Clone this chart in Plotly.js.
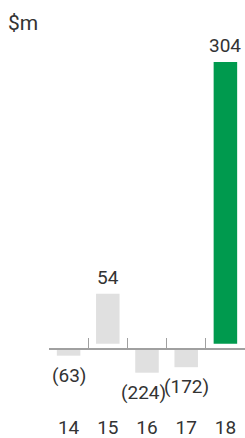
<!DOCTYPE html>
<html>
<head>
<meta charset="utf-8">
<script src="https://cdn.plot.ly/plotly-3.0.1.min.js"></script>
<style>html,body{margin:0;padding:0;background:#fff;}#chart{width:245px;height:438px;}</style>
</head>
<body>
<div id="chart"></div>
<script>
const categories = ['14', '15', '16', '17', '18'];
const values = [-63, 54, -224, -172, 304];
const valueLabels = ['(63)', '54', '(224)', '(172)', '304'];
const highlightCategory = '18';

const GRAY = '#e0e0e0';
const GREEN = '#009a4e';
const TEXT = '#333333';
const FONT = 'Roboto, Arial, sans-serif';

const posVals = values.map(v => v >= 0 ? v : null);
const negVals = values.map(v => v < 0 ? v : null);
const colors = categories.map(c => c === highlightCategory ? GREEN : GRAY);

const traces = [
  {type: 'bar', x: categories, y: posVals, xaxis: 'x', yaxis: 'y',
   marker: {color: colors, line: {width: 0}}, hoverinfo: 'skip'},
  {type: 'bar', x: categories, y: negVals, xaxis: 'x2', yaxis: 'y2',
   marker: {color: colors, line: {width: 0}}, hoverinfo: 'skip'}
];

const annotations = values.map((v, i) => {
  const neg = v < 0;
  return {
    x: i, y: v,
    xref: neg ? 'x2' : 'x', yref: neg ? 'y2' : 'y',
    text: valueLabels[i], showarrow: false,
    xanchor: 'center', yanchor: neg ? 'top' : 'bottom',
    yshift: neg ? -6 : 3,
    xshift: (categories[i] === '16') ? -4 : 0,
    font: {family: FONT, size: 19, color: TEXT}
  };
});

const layout = {
  width: 245, height: 438,
  margin: {l: 49, r: 0, t: 0, b: 24},
  paper_bgcolor: '#ffffff', plot_bgcolor: '#ffffff',
  showlegend: false,
  barmode: 'overlay', bargap: 0.4,
  title: {text: '$m', x: 8 / 245, xanchor: 'left', xref: 'container',
          y: 1 - 23 / 438, yanchor: 'middle', yref: 'container',
          font: {family: FONT, size: 21, color: TEXT}},
  font: {family: FONT, color: TEXT},
  xaxis: {type: 'category', categoryorder: 'array', categoryarray: categories,
          range: [-0.5, 4.5], showline: false, showgrid: false, zeroline: false,
          ticks: '', tickfont: {family: FONT, size: 19, color: TEXT}, fixedrange: true},
  xaxis2: {type: 'category', categoryorder: 'array', categoryarray: categories,
           range: [-0.5, 4.5], overlaying: 'x', anchor: 'free', position: (414 - 348.3) / 414,
           side: 'bottom', showline: true, linecolor: '#a0a0a0', linewidth: 1.3,
           ticks: 'inside', ticklen: 10, tickwidth: 1.3, tickcolor: '#a0a0a0',
           tickson: 'boundaries', showticklabels: false, showgrid: false, zeroline: false},
  yaxis: {range: [-75.9, 370.9], visible: false, showgrid: false, zeroline: false},
  yaxis2: {range: [-614.4, 3298.7], overlaying: 'y', anchor: 'x', visible: false,
           showgrid: false, zeroline: false},
  annotations: annotations
};

Plotly.newPlot('chart', traces, layout, {displayModeBar: false, staticPlot: true});
</script>
</body>
</html>
